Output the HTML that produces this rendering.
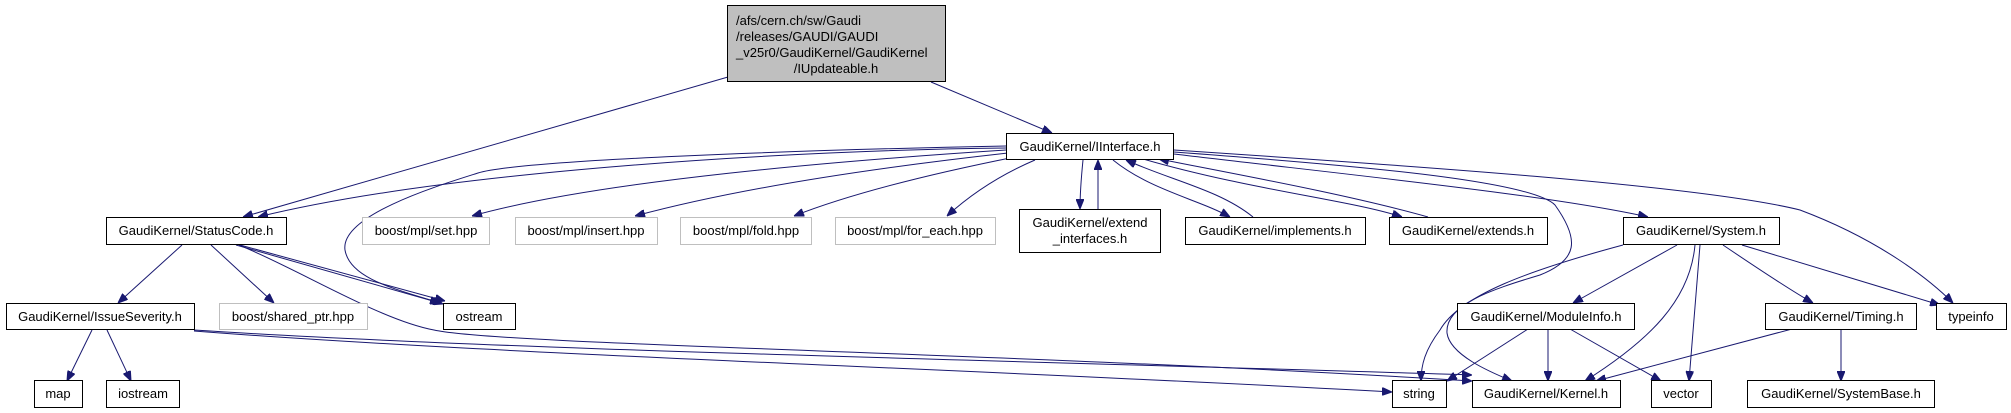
<!DOCTYPE html>
<html><head><meta charset="utf-8"><style>
html,body{margin:0;padding:0;background:#fff;}
svg{display:block;}
text{font-family:"Liberation Sans",sans-serif;font-size:13px;fill:#000;}
.n{fill:#fff;stroke:#000;stroke-width:1;}
.g{fill:#fff;stroke:#bfbfbf;stroke-width:1;}
.e{fill:none;stroke:#191970;stroke-width:1;}
</style></head><body>
<svg width="2011" height="413" viewBox="0 0 2011 413" xmlns="http://www.w3.org/2000/svg">
<defs>
<marker id="a" markerWidth="10" markerHeight="8" refX="10" refY="4" orient="auto" markerUnits="userSpaceOnUse">
<path d="M0,0 L10,4 L0,8 Z" fill="#191970" stroke="#191970"/>
</marker>
</defs>
<g marker-end="url(#a)">
<!-- title edges -->
<path class="e" d="M728,77 L243,217"/>
<path class="e" d="M931,82 L1052,133"/>
<!-- IInterface edges -->
<path class="e" d="M1006,148 C800,150 450,170 258,217"/>
<path class="e" d="M1006,150 C850,160 600,180 472,216"/>
<path class="e" d="M1008,153 C900,165 750,185 635,216"/>
<path class="e" d="M1015,157 C950,170 860,190 794,216"/>
<path class="e" d="M1035,160 C1000,175 970,195 947,216"/>
<path class="e" d="M1006,146 C800,150 520,160 478,173 C440,185 340,215 345,250 C350,280 400,290 443,304"/>
<path class="e" d="M1083,160 C1081,180 1080,195 1080,209"/>
<path class="e" d="M1098,209 C1098,190 1098,175 1098,160"/>
<path class="e" d="M1113,160 C1150,190 1200,200 1230,217"/>
<path class="e" d="M1253,217 C1220,190 1170,180 1126,160"/>
<path class="e" d="M1143,159 C1250,190 1350,200 1402,217"/>
<path class="e" d="M1428,217 C1350,195 1240,175 1159,159"/>
<path class="e" d="M1174,154 C1350,175 1550,195 1648,217"/>
<path class="e" d="M1174,150 C1400,165 1700,185 1800,210 C1880,240 1930,280 1953,303"/>
<path class="e" d="M1174,152 C1350,165 1530,180 1555,205 C1580,240 1578,260 1540,275 C1490,290 1445,305 1447,333 C1450,355 1490,372 1512,381"/>
<!-- System edges -->
<path class="e" d="M1623,245 C1530,270 1460,295 1440,330 C1425,350 1421,365 1421,381"/>
<path class="e" d="M1677,245 L1573,303"/>
<path class="e" d="M1695,245 C1690,300 1650,340 1585,381"/>
<path class="e" d="M1700,245 L1689,381"/>
<path class="e" d="M1723,245 C1760,270 1790,290 1813,303"/>
<path class="e" d="M1742,245 L1940,305"/>
<!-- ModuleInfo / Timing -->
<path class="e" d="M1528,329 L1447,381"/>
<path class="e" d="M1548,329 L1548,381"/>
<path class="e" d="M1570,329 L1661,381"/>
<path class="e" d="M1792,329 L1596,381"/>
<path class="e" d="M1841,329 L1841,381"/>
<!-- StatusCode -->
<path class="e" d="M182,245 L118,303"/>
<path class="e" d="M211,245 L274,303"/>
<path class="e" d="M236,245 L440,303"/>
<path class="e" d="M240,245 L445,301"/>
<path class="e" d="M239,245 C300,270 380,320 434,330 C500,345 1000,352 1472,381"/>
<!-- IssueSeverity -->
<path class="e" d="M194,330 C500,350 1000,360 1472,375"/>
<path class="e" d="M194,331 C500,355 1000,370 1392,392"/>
<path class="e" d="M92,330 L67,381"/>
<path class="e" d="M107,330 L131,381"/>
</g>
<!-- nodes -->
<rect x="727.5" y="5.5" width="218" height="76" fill="#bfbfbf" stroke="#000"/>
<text x="736" y="25">/afs/cern.ch/sw/Gaudi</text>
<text x="736" y="41">/releases/GAUDI/GAUDI</text>
<text x="736" y="57">_v25r0/GaudiKernel/GaudiKernel</text>
<text x="836" y="73" text-anchor="middle">/IUpdateable.h</text>

<rect class="n" x="1006.5" y="133.5" width="167" height="26"/><text x="1090" y="151" text-anchor="middle">GaudiKernel/IInterface.h</text>
<rect class="n" x="106.5" y="217.5" width="180" height="27"/><text x="196" y="235" text-anchor="middle">GaudiKernel/StatusCode.h</text>
<rect class="g" x="362.5" y="217.5" width="127" height="27"/><text x="426" y="235" text-anchor="middle" style="fill:#000">boost/mpl/set.hpp</text>
<rect class="g" x="515.5" y="217.5" width="142" height="27"/><text x="586" y="235" text-anchor="middle">boost/mpl/insert.hpp</text>
<rect class="g" x="680.5" y="217.5" width="131" height="27"/><text x="746" y="235" text-anchor="middle">boost/mpl/fold.hpp</text>
<rect class="g" x="835.5" y="217.5" width="160" height="27"/><text x="915" y="235" text-anchor="middle">boost/mpl/for_each.hpp</text>
<rect class="n" x="1019.5" y="209.5" width="141" height="43"/><text x="1090" y="227" text-anchor="middle">GaudiKernel/extend</text><text x="1090" y="243" text-anchor="middle">_interfaces.h</text>
<rect class="n" x="1185.5" y="217.5" width="180" height="27"/><text x="1275" y="235" text-anchor="middle">GaudiKernel/implements.h</text>
<rect class="n" x="1389.5" y="217.5" width="158" height="27"/><text x="1468" y="235" text-anchor="middle">GaudiKernel/extends.h</text>
<rect class="n" x="1623.5" y="217.5" width="156" height="27"/><text x="1701" y="235" text-anchor="middle">GaudiKernel/System.h</text>
<rect class="n" x="6.5" y="303.5" width="188" height="26"/><text x="100" y="321" text-anchor="middle">GaudiKernel/IssueSeverity.h</text>
<rect class="g" x="219.5" y="303.5" width="148" height="26"/><text x="293" y="321" text-anchor="middle">boost/shared_ptr.hpp</text>
<rect class="n" x="443.5" y="303.5" width="72" height="26"/><text x="479" y="321" text-anchor="middle">ostream</text>
<rect class="n" x="1457.5" y="303.5" width="177" height="26"/><text x="1546" y="321" text-anchor="middle">GaudiKernel/ModuleInfo.h</text>
<rect class="n" x="1765.5" y="303.5" width="151" height="26"/><text x="1841" y="321" text-anchor="middle">GaudiKernel/Timing.h</text>
<rect class="n" x="1936.5" y="303.5" width="70" height="26"/><text x="1971" y="321" text-anchor="middle">typeinfo</text>
<rect class="n" x="34.5" y="380.5" width="48" height="27"/><text x="58" y="398" text-anchor="middle">map</text>
<rect class="n" x="106.5" y="380.5" width="73" height="27"/><text x="143" y="398" text-anchor="middle">iostream</text>
<rect class="n" x="1392.5" y="380.5" width="54" height="27"/><text x="1419" y="398" text-anchor="middle">string</text>
<rect class="n" x="1472.5" y="380.5" width="148" height="27"/><text x="1546" y="398" text-anchor="middle">GaudiKernel/Kernel.h</text>
<rect class="n" x="1651.5" y="380.5" width="60" height="27"/><text x="1681" y="398" text-anchor="middle">vector</text>
<rect class="n" x="1747.5" y="380.5" width="187" height="27"/><text x="1841" y="398" text-anchor="middle">GaudiKernel/SystemBase.h</text>
</svg>
</body></html>
